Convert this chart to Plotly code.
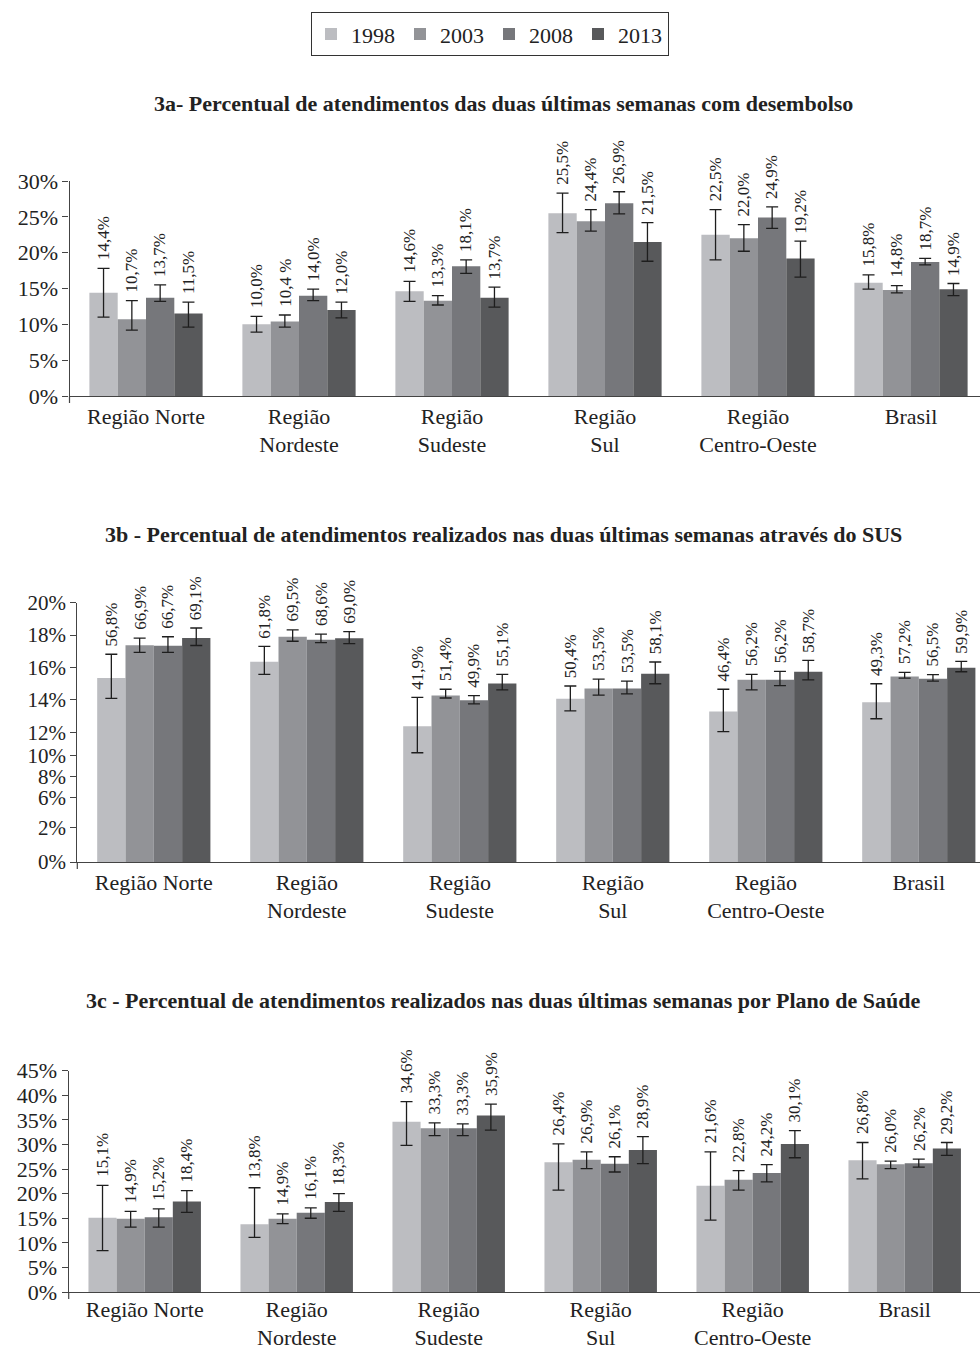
import plotly.graph_objects as go

# Categories and series
regions = ["Região Norte", "Região Nordeste", "Região Sudeste", "Região Sul",
           "Região Centro-Oeste", "Brasil"]
region_ticktext = ["Região Norte", "Região<br>Nordeste", "Região<br>Sudeste",
                   "Região<br>Sul", "Região<br>Centro-Oeste", "Brasil"]
years = ["1998", "2003", "2008", "2013"]
year_colors = ["#bcbdc1", "#929397", "#76777b", "#58595b"]

# 3a - share of visits with out-of-pocket payment (rows: regions, cols: years)
desembolso = [[14.4, 10.7, 13.7, 11.5], [10.0, 10.4, 14.0, 12.0],
              [14.6, 13.3, 18.1, 13.7], [25.5, 24.4, 26.9, 21.5],
              [22.5, 22.0, 24.9, 19.2], [15.8, 14.8, 18.7, 14.9]]
desembolso_hi = [[17.8, 13.3, 15.5, 13.1], [11.1, 11.3, 14.9, 13.1],
                 [16.0, 14.0, 19.0, 15.2], [28.3, 26.0, 28.5, 24.2],
                 [26.0, 23.9, 26.4, 21.6], [16.9, 15.4, 19.2, 15.7]]
desembolso_lo = [[11.0, 9.2, 13.2, 9.6], [8.9, 9.6, 13.3, 10.9],
                 [13.2, 12.7, 17.1, 12.4], [22.8, 23.0, 25.4, 18.8],
                 [19.0, 20.2, 23.4, 16.6], [14.9, 14.4, 18.3, 14.0]]

# 3b - share of visits through SUS
sus = [[56.8, 66.9, 66.7, 69.1], [61.8, 69.5, 68.6, 69.0],
       [41.9, 51.4, 49.9, 55.1], [50.4, 53.5, 53.5, 58.1],
       [46.4, 56.2, 56.2, 58.7], [49.3, 57.2, 56.5, 59.9]]
sus_hi = [[64.1, 69.1, 69.5, 72.2], [66.5, 71.6, 70.3, 71.1],
          [50.8, 53.3, 51.3, 57.9], [54.3, 56.4, 55.8, 61.7],
          [53.3, 57.9, 58.8, 62.2], [55.0, 58.5, 57.8, 61.9]]
sus_lo = [[50.5, 64.7, 64.7, 66.8], [57.9, 68.1, 67.7, 67.4],
          [33.7, 50.6, 48.8, 53.1], [46.6, 51.5, 51.9, 55.0],
          [40.2, 53.1, 54.4, 56.2], [44.2, 56.7, 55.8, 58.7]]

# 3c - share of visits through a health plan
plano = [[15.1, 14.9, 15.2, 18.4], [13.8, 14.9, 16.1, 18.3],
         [34.6, 33.3, 33.3, 35.9], [26.4, 26.9, 26.1, 28.9],
         [21.6, 22.8, 24.2, 30.1], [26.8, 26.0, 26.2, 29.2]]
plano_hi = [[21.7, 16.4, 16.9, 20.6], [21.2, 15.9, 17.1, 20.0],
            [38.7, 34.4, 34.2, 38.2], [30.1, 28.5, 27.5, 31.6],
            [28.5, 24.7, 25.9, 32.8], [30.4, 26.6, 27.0, 30.4]]
plano_lo = [[8.4, 13.2, 13.2, 16.2], [11.1, 13.9, 15.0, 16.4],
            [29.8, 31.8, 31.8, 32.9], [20.7, 25.1, 24.4, 26.1],
            [14.6, 20.7, 22.4, 27.3], [23.0, 25.1, 25.4, 27.8]]

# Axis tick labels as printed on each panel
ticks_3a = ["0%", "5%", "10%", "15%", "20%", "25%", "30%"]
ticks_3b = ["0%", "2%", "6%", "8%", "10%", "12%", "14%", "16%", "18%", "20%"]
ticks_3c = ["0%", "5%", "10%", "15%", "20%", "25%", "30%", "35%", "40%", "45%"]

titles = [
    "3a- Percentual de atendimentos das duas últimas semanas com desembolso",
    "3b - Percentual de atendimentos realizados nas duas últimas semanas através do SUS",
    "3c - Percentual de atendimentos realizados nas duas últimas semanas por Plano de Saúde",
]

# label text exceptions as printed
label_overrides = {(0, 1, 1): "10,4 %"}

W, H = 980, 1351
FONT = "Liberation Serif, Times New Roman, serif"
BARGAP = 0.26

panels = [
    dict(vals=desembolso, hi=desembolso_hi, lo=desembolso_lo, ticktext=ticks_3a,
         tickvals=[0, 5, 10, 15, 20, 25, 30], yrange=[0, 30],
         ypx=(181, 396), xleft=69.5, step=153, title_y=103, standoff=0),
    dict(vals=sus, hi=sus_hi, lo=sus_lo, ticktext=ticks_3b,
         tickvals=[0, 10.7, 20, 26.3, 32.8, 40, 50, 60, 70, 80], yrange=[0, 80],
         ypx=(602.7, 862), xleft=77.3, step=153, title_y=534, standoff=0),
    dict(vals=plano, hi=plano_hi, lo=plano_lo, ticktext=ticks_3c,
         tickvals=[0, 5, 10, 15, 20, 25, 30, 35, 40, 45], yrange=[0, 45],
         ypx=(1070.7, 1292), xleft=68.7, step=152, title_y=1000, standoff=-3),
]

fig = go.Figure()
annotations = []
shapes = []
layout_axes = {}

bar_w = (1 - BARGAP) / len(years)

for p, panel in enumerate(panels):
    suffix = "" if p == 0 else str(p + 1)
    xa, ya = "x" + suffix, "y" + suffix
    for i, year in enumerate(years):
        vals = [row[i] for row in panel["vals"]]
        hi = [row[i] for row in panel["hi"]]
        lo = [row[i] for row in panel["lo"]]
        fig.add_trace(go.Bar(
            x=regions, y=vals, name=year, xaxis=xa, yaxis=ya,
            marker=dict(color=year_colors[i], line=dict(width=0)),
            legendgroup=year, showlegend=(p == 0),
            error_y=dict(type="data", symmetric=False,
                         array=[h - v for h, v in zip(hi, vals)],
                         arrayminus=[v - l for l, v in zip(lo, vals)],
                         color="#1e1e1e", thickness=1.3, width=6),
        ))
        for j, v in enumerate(vals):
            txt = label_overrides.get((p, j, i), f"{v:.1f}%".replace(".", ","))
            annotations.append(dict(
                x=j + (i - 1.5) * bar_w, y=hi[j], xref=xa, yref=ya,
                text=txt, textangle=-90, showarrow=False,
                xanchor="center", yanchor="bottom", yshift=6,
                font=dict(family=FONT, size=17, color="#222"),
            ))

    top_px, bot_px = panel["ypx"]
    x0 = panel["xleft"] / W
    xmax = -0.5 + (W - panel["xleft"]) / panel["step"]
    layout_axes["xaxis" + suffix] = dict(
        domain=[x0, 1], range=[-0.5, xmax], anchor=ya,
        tickmode="array", tickvals=regions, ticktext=region_ticktext,
        showline=True, linecolor="#444", linewidth=1.2, ticks="",
        ticklabelstandoff=panel["standoff"],
        showgrid=False, zeroline=False, automargin=False,
        tickfont=dict(family=FONT, size=22, color="#222"),
    )
    layout_axes["yaxis" + suffix] = dict(
        domain=[1 - bot_px / H, 1 - top_px / H], range=panel["yrange"], anchor=xa,
        tickmode="array", tickvals=panel["tickvals"], ticktext=panel["ticktext"],
        showline=True, linecolor="#444", linewidth=1.2,
        ticks="outside", ticklen=6, tickcolor="#444", tickwidth=1.2,
        showgrid=False, zeroline=False, automargin=False,
        tickfont=dict(family=FONT, size=22 if p != 1 else 21, color="#222"),
    )
    # short stub of the value axis below the category axis
    shapes.append(dict(type="line", xref=xa + " domain", yref=ya + " domain",
                       x0=0, x1=0, y0=0, y1=-7 / (bot_px - top_px),
                       line=dict(color="#444", width=1.2)))
    annotations.append(dict(
        x=503 / W, y=1 - panel["title_y"] / H, xref="paper", yref="paper",
        text="<b>" + titles[p] + "</b>", showarrow=False,
        xanchor="center", yanchor="middle",
        font=dict(family=FONT, size=22, color="#222"),
    ))

fig.update_layout(
    width=W, height=H, template="none",
    paper_bgcolor="white", plot_bgcolor="white",
    margin=dict(l=0, r=0, t=0, b=0, pad=0),
    barmode="group", bargap=BARGAP, bargroupgap=0,
    showlegend=True,
    legend=dict(orientation="h", x=0.5, xanchor="center", y=1 - 12 / H, yanchor="top",
                bordercolor="#333", borderwidth=1.2, bgcolor="white",
                font=dict(family=FONT, size=22, color="#222"),
                itemclick=False, itemdoubleclick=False),
    annotations=annotations, shapes=shapes,
    **layout_axes,
)

fig.write_html("out.html")
